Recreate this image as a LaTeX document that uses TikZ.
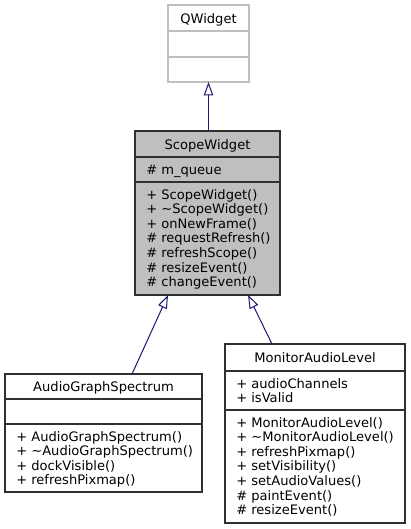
\documentclass[tikz,border=0pt]{standalone}
\usepackage{fontspec}
\setmainfont{DejaVu Sans}
\usetikzlibrary{arrows.meta}
\definecolor{edgeblue}{HTML}{191970}
\definecolor{swfill}{HTML}{BFBFBF}
\definecolor{qwline}{HTML}{BFBFBF}
\definecolor{boxline}{HTML}{303030}
\tikzset{
  classbox/.style={draw=boxline, line width=0.9pt, fill=white, inner sep=0pt, outer sep=0pt, anchor=north west},
  divider/.style={draw=boxline, line width=0.9pt},
  txt/.style={anchor=base west, inner sep=0pt, font=\fontsize{9.8}{11}\selectfont},
  ttl/.style={anchor=base, inner sep=0pt, font=\fontsize{9.8}{11}\selectfont},
  inherit/.style={draw=edgeblue, line width=0.75pt, -{Triangle[open,length=10pt,width=7pt,fill=white]}}
}
\begin{document}
\begin{tikzpicture}[x=0.75pt,y=-0.75pt]
\useasboundingbox (0,0) rectangle (411,529);

% QWidget
\node[classbox, draw=qwline, minimum width=60.75pt, minimum height=57.75pt] (qw) at (168,5) {};
\draw[divider, draw=qwline] (168,31) -- (249,31);
\draw[divider, draw=qwline] (168,57) -- (249,57);
\node[ttl] (qwt) at (208.5,23) {QWidget};

% ScopeWidget
\node[classbox, fill=swfill, minimum width=108.75pt, minimum height=123pt] (sw) at (135,131) {};
\draw[divider] (135,157) -- (280,157);
\draw[divider] (135,182) -- (280,182);
\node[ttl] (swt) at (207.5,149) {ScopeWidget};
\node[txt] (swa) at (146,174) {\# m\_queue};
\foreach \t [count=\i from 0] in {+ ScopeWidget(),+ \textasciitilde ScopeWidget(),+ onNewFrame(),\# requestRefresh(),\# refreshScope(),\# resizeEvent(),\# changeEvent()}
  \node[txt] (swm\i) at (146,{199+\i*14.6}) {\t};

% AudioGraphSpectrum
\node[classbox, minimum width=147.75pt, minimum height=88.5pt] (ags) at (5,374) {};
\draw[divider] (5,399) -- (202,399);
\draw[divider] (5,424) -- (202,424);
\node[ttl] (agst) at (103.5,391.5) {AudioGraphSpectrum};
\foreach \t [count=\i from 0] in {+ AudioGraphSpectrum(),+ \textasciitilde AudioGraphSpectrum(),+ dockVisible(),+ refreshPixmap()}
  \node[txt] (agsm\i) at (16,{441+\i*14.6}) {\t};

% MonitorAudioLevel
\node[classbox, minimum width=135pt, minimum height=134.25pt] (mal) at (225,344) {};
\draw[divider] (225,371) -- (405,371);
\draw[divider] (225,410) -- (405,410);
\node[ttl] (malt) at (315,362) {MonitorAudioLevel};
\foreach \t [count=\i from 0] in {+ audioChannels,+ isValid}
  \node[txt] (mala\i) at (236,{388+\i*14.6}) {\t};
\foreach \t [count=\i from 0] in {+ MonitorAudioLevel(),+ \textasciitilde MonitorAudioLevel(),+ refreshPixmap(),+ setVisibility(),+ setAudioValues(),\# paintEvent(),\# resizeEvent()}
  \node[txt] (malm\i) at (236,{427+\i*14.6}) {\t};

% inheritance
\draw[inherit] (sw.north -| qw.south) -- (qw.south);
\draw[inherit] ([xshift=21.4pt]ags.north) -- ([xshift=-29.6pt]sw.south);
\draw[inherit] ([xshift=-32.25pt]mal.north) -- ([xshift=30.4pt]sw.south);
\end{tikzpicture}
\end{document}
